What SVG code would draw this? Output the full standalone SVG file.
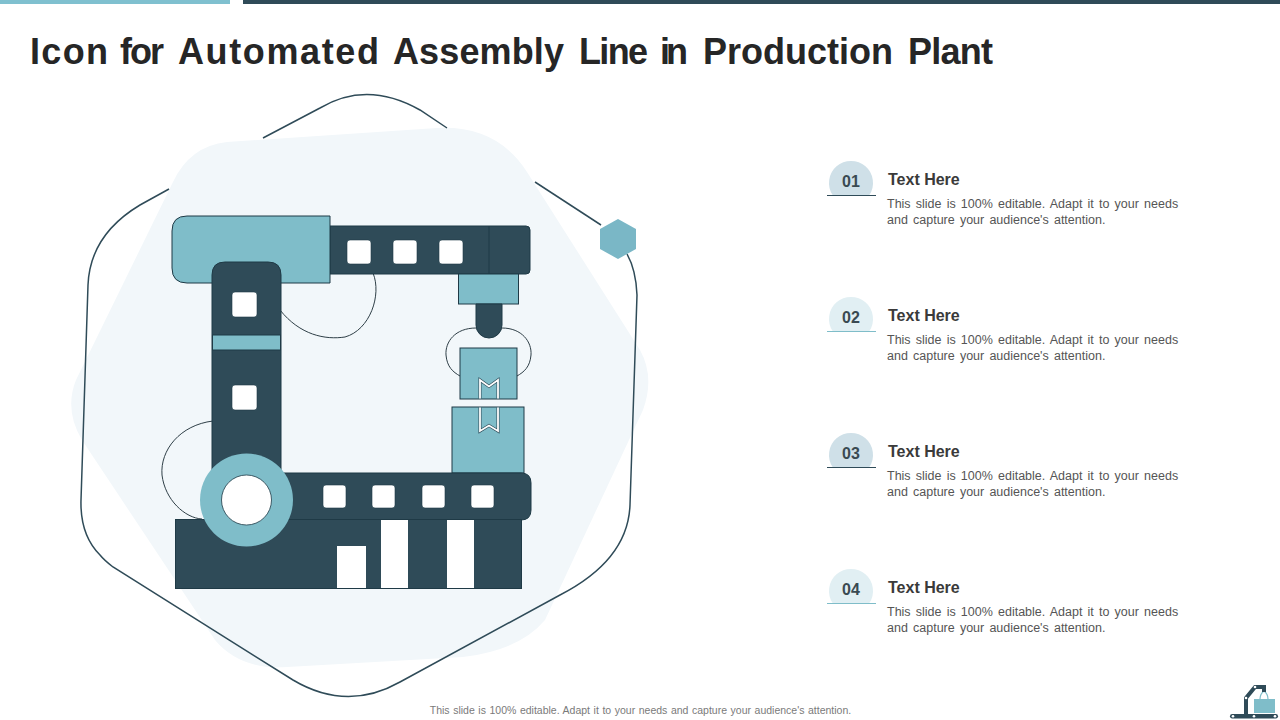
<svg xmlns="http://www.w3.org/2000/svg" width="1280" height="720" viewBox="0 0 1280 720">
<style>
.t{font-family:"Liberation Sans",Arial,sans-serif}
.d{fill:#2f4b58;stroke:#1f3a46;stroke-width:1}
.l{fill:#7fbdc9;stroke:#1f3a46;stroke-width:1}
.w{fill:#fff;stroke:#1f3a46;stroke-width:.6}
.c{fill:none;stroke:#2f3f47;stroke-width:1}
.h{font-size:16px;font-weight:700;fill:#3a3a3a}
.b{font-size:12.5px;fill:#555;word-spacing:1.7px}
.n{font-size:16px;font-weight:700;fill:#3a4a52;text-anchor:middle}
</style>
<rect width="1280" height="720" fill="#fff"/>
<rect x="0" y="0" width="230" height="4" fill="#7fc0cf"/>
<rect x="243" y="0" width="1037" height="4" fill="#2f4b58"/>
<text class="t" y="64" font-size="36" font-weight="700" fill="#262626"><tspan x="30" textLength="78" lengthAdjust="spacing">Icon</tspan> <tspan x="120" textLength="44" lengthAdjust="spacing">for</tspan> <tspan x="178" textLength="201" lengthAdjust="spacing">Automated</tspan> <tspan x="393" textLength="171" lengthAdjust="spacing">Assembly</tspan> <tspan x="579" textLength="69" lengthAdjust="spacing">Line</tspan> <tspan x="660" textLength="28" lengthAdjust="spacing">in</tspan> <tspan x="703" textLength="190" lengthAdjust="spacing">Production</tspan> <tspan x="908" textLength="85" lengthAdjust="spacing">Plant</tspan></text>

<path id="blob" d="M227 142 L437 128 Q497 125 527 172 L640 350 Q655 377 643 410 L545 620 Q520 650 463 657 L287 667 Q240 670 215 640 L82 440 Q64 410 76 380 L173 182 Q190 146 227 142Z" fill="#f2f7fa"/>
<g id="outline" fill="none" stroke="#2f4b58" stroke-width="1.500">
<path d="M447 128 L420 110 Q367 80 320 108 L263 138"/>
<path d="M169 189 L140 205 Q90 235 88 285 L81 500 Q80 535 100 555 Q104 560 113 567 L293 680 Q347 712 400 682 L560 595 Q628 560 630 505 L637 295 Q636 270 627 254"/>
<path d="M535 182 L601 225"/>
</g>
<polygon id="hexagon" points="618,219 636,229 636,249 618,259 600,249 600,229" fill="#7ab7c6"/>

<g id="robot">
<path class="c" d="M280 310 C300 335 325 340 345 337 C370 330 382 295 373 273"/>
<path class="c" d="M213 421 C180 425 160 450 162 475 C165 500 185 518 202 519"/>
<path class="c" d="M476 328 C455 328 445 342 446 355 C447 367 453 372 460 376"/>
<path class="c" d="M502 328 C522 328 532 342 531 355 C530 367 524 372 517 376"/>
<path class="d" d="M330 226 H526 Q530 226 530 230 V270 Q530 274 526 274 H330Z"/>
<path d="M489 226 V274" stroke="#1f3a46" stroke-width="1" fill="none"/>
<path class="l" d="M330 216 H187 Q172 216 172 231 V268 Q172 283 187 283 H330Z"/>
<rect class="l" x="458.500" y="274" width="60" height="30"/>
<path class="d" d="M476 304 H502 V325 A13 13 0 0 1 476 325Z"/>
<path class="d" d="M212 275 Q212 262 225 262 H268 Q281 262 281 275 V480 H212Z"/>
<rect class="l" x="212.500" y="335" width="68" height="15"/>
<rect class="w" x="232" y="292" width="25" height="25" rx="3"/>
<rect class="w" x="232" y="385" width="25" height="25" rx="3"/>
<rect class="w" x="347" y="240" width="24" height="24" rx="3"/>
<rect class="w" x="393" y="240" width="24" height="24" rx="3"/>
<rect class="w" x="439" y="240" width="24" height="24" rx="3"/>
<rect class="l" x="460" y="348" width="57" height="51"/>
<rect class="l" x="452" y="407" width="72" height="66"/>
<path d="M480 398.500 V380 L489 386.500 L498 380 V398.500 M480 407.500 V431 L489 425.500 L498 431 V407.500" fill="none" stroke="#2f4b58" stroke-width="3"/>
<path d="M480 398.500 V380 L489 386.500 L498 380 V398.500 M480 407.500 V431 L489 425.500 L498 431 V407.500" fill="none" stroke="#fff" stroke-width="1.800"/>
<path class="d" d="M246 473 H521 Q531 473 531 483 V510 Q531 520 521 520 H246Z"/>
<rect class="w" x="323" y="485" width="23" height="23" rx="3"/>
<rect class="w" x="372" y="485" width="23" height="23" rx="3"/>
<rect class="w" x="422" y="485" width="23" height="23" rx="3"/>
<rect class="w" x="471" y="485" width="23" height="23" rx="3"/>
<rect class="d" x="175.500" y="519.500" width="346" height="69"/>
<rect x="337" y="546" width="29" height="42" fill="#fff"/>
<rect x="381" y="520" width="27" height="68" fill="#fff"/>
<rect x="447" y="520" width="27" height="68" fill="#fff"/>
<circle cx="246.500" cy="500" r="46.500" fill="#7fbdc9"/>
<circle cx="246.500" cy="500" r="25" fill="#fff" stroke="#1f3a46" stroke-width=".8"/>
</g>

<g id="item1">
<path d="M832.600 195 A22 22 0 1 1 869.400 195Z" fill="#cfe0e8"/><path d="M827 195.500 H876" stroke="#2f4b58" stroke-width="1.200"/>
<text class="t n" x="851" y="187">01</text>
<text class="t h" x="888" y="185">Text Here</text>
<text class="t b" x="887" y="208">This slide is 100% editable. Adapt it to your needs</text>
<text class="t b" x="887" y="224">and capture your audience's attention.</text>
</g>
<g id="item2">
<path d="M832.600 331 A22 22 0 1 1 869.400 331Z" fill="#e1eff3"/><path d="M827 331.500 H876" stroke="#7fbdc9" stroke-width="1.200"/>
<text class="t n" x="851" y="323">02</text>
<text class="t h" x="888" y="321">Text Here</text>
<text class="t b" x="887" y="344">This slide is 100% editable. Adapt it to your needs</text>
<text class="t b" x="887" y="360">and capture your audience's attention.</text>
</g>
<g id="item3">
<path d="M832.600 467 A22 22 0 1 1 869.400 467Z" fill="#cfe0e8"/><path d="M827 467.500 H876" stroke="#2f4b58" stroke-width="1.200"/>
<text class="t n" x="851" y="459">03</text>
<text class="t h" x="888" y="457">Text Here</text>
<text class="t b" x="887" y="480">This slide is 100% editable. Adapt it to your needs</text>
<text class="t b" x="887" y="496">and capture your audience's attention.</text>
</g>
<g id="item4">
<path d="M832.600 603 A22 22 0 1 1 869.400 603Z" fill="#e1eff3"/><path d="M827 603.500 H876" stroke="#7fbdc9" stroke-width="1.200"/>
<text class="t n" x="851" y="595">04</text>
<text class="t h" x="888" y="593">Text Here</text>
<text class="t b" x="887" y="616">This slide is 100% editable. Adapt it to your needs</text>
<text class="t b" x="887" y="632">and capture your audience's attention.</text>
</g>
<text class="t" x="640.500" y="714" font-size="10.500" fill="#7a7a7a" text-anchor="middle" style="word-spacing:.65px">This slide is 100% editable. Adapt it to your needs and capture your audience's attention.</text>

<g id="logo">
<rect x="1254" y="699" width="21" height="14" fill="#7fbdc9"/>
<path d="M1260 699 Q1260 694 1264 691 Q1268 694 1268 699" fill="none" stroke="#7fbdc9" stroke-width="1.200"/>
<path d="M1264 692 V687 H1255 L1246 698 V716" fill="none" stroke="#2f4b58" stroke-width="4"/>
<rect x="1230" y="714" width="48" height="4.500" rx="2.200" fill="#2f4b58"/>
<circle cx="1233" cy="716.200" r="1.300" fill="#fff"/><circle cx="1254" cy="716.200" r="1.300" fill="#fff"/><circle cx="1275" cy="716.200" r="1.300" fill="#fff"/>
<circle cx="1246" cy="698" r="1.300" fill="#fff"/><circle cx="1255" cy="687" r="1.300" fill="#fff"/>
</g>
</svg>
